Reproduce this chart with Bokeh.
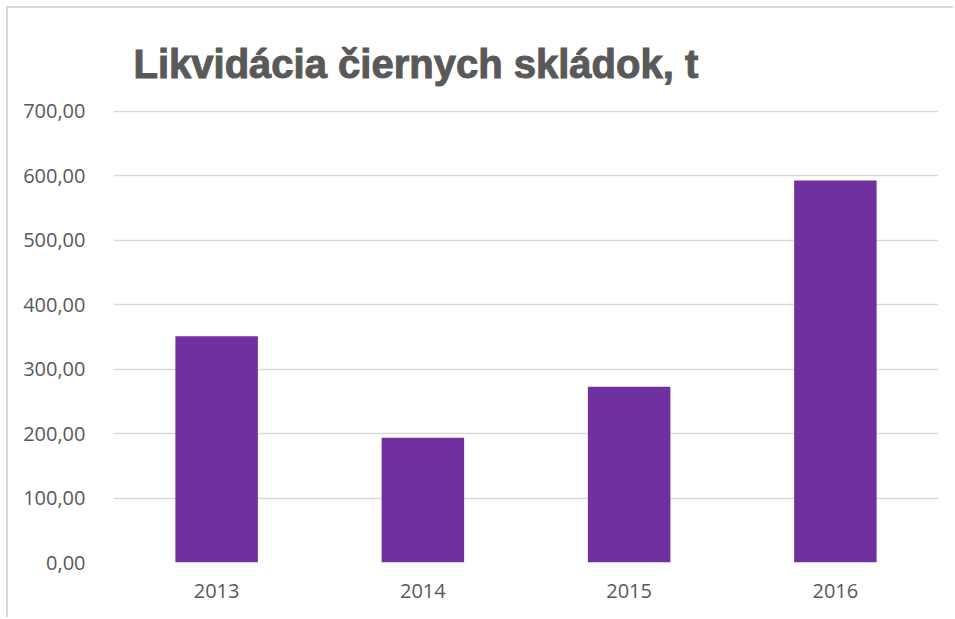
from bokeh.plotting import figure
from bokeh.models import CustomJSTickFormatter, FixedTicker, Range1d
from bokeh.embed import file_html
from bokeh.resources import INLINE

years = ["2013", "2014", "2015", "2016"]
values = [351.0, 193.5, 272.5, 592.5]
y_ticks = [0, 100, 200, 300, 400, 500, 600, 700]
title_text = "Likvidácia čiernych skládok, t"

p = figure(x_range=years, y_range=Range1d(0, 701), width=947, height=611,
           output_backend="svg", toolbar_location=None,
           min_border_left=105, min_border_right=17, min_border_top=102, min_border_bottom=57,
           styles={"border-left": "2px solid #d9d9d9", "border-top": "2px solid #d9d9d9",
                   "margin-left": "6px", "margin-top": "6px"})

p.vbar(x=years, top=values, width=0.4, fill_color="#7030A0", line_color=None)

p.title.text = title_text
p.title.align = "left"
p.title.offset = 20
p.title.standoff = 50
p.title.text_font = "Liberation Sans"
p.title.text_font_style = "bold"
p.title.text_font_size = "40px"
p.title.text_color = "#595959"
try:
    p.title.text_outline_color = "#595959"
    p.title.text_outline_width = 1.5
except Exception:
    pass

p.outline_line_color = None
p.xgrid.grid_line_color = None
p.ygrid.grid_line_color = "#d9d9d9"
p.ygrid.grid_line_width = 1.5
p.yaxis.ticker = FixedTicker(ticks=y_ticks)
p.yaxis.formatter = CustomJSTickFormatter(code="return tick.toFixed(2).replace('.', ',');")
for ax in (p.xaxis, p.yaxis):
    ax.axis_line_color = None
    ax.major_tick_line_color = None
    ax.minor_tick_line_color = None
    ax.major_label_text_font = "Open Sans"
    ax.major_label_text_font_size = "20px"
    ax.major_label_text_color = "#595959"
p.yaxis.major_label_standoff = 22
p.xaxis.major_label_standoff = 15
p.x_range.range_padding = 0
p.x_range.group_padding = 0

open("out.html", "w").write(file_html(p, INLINE))
